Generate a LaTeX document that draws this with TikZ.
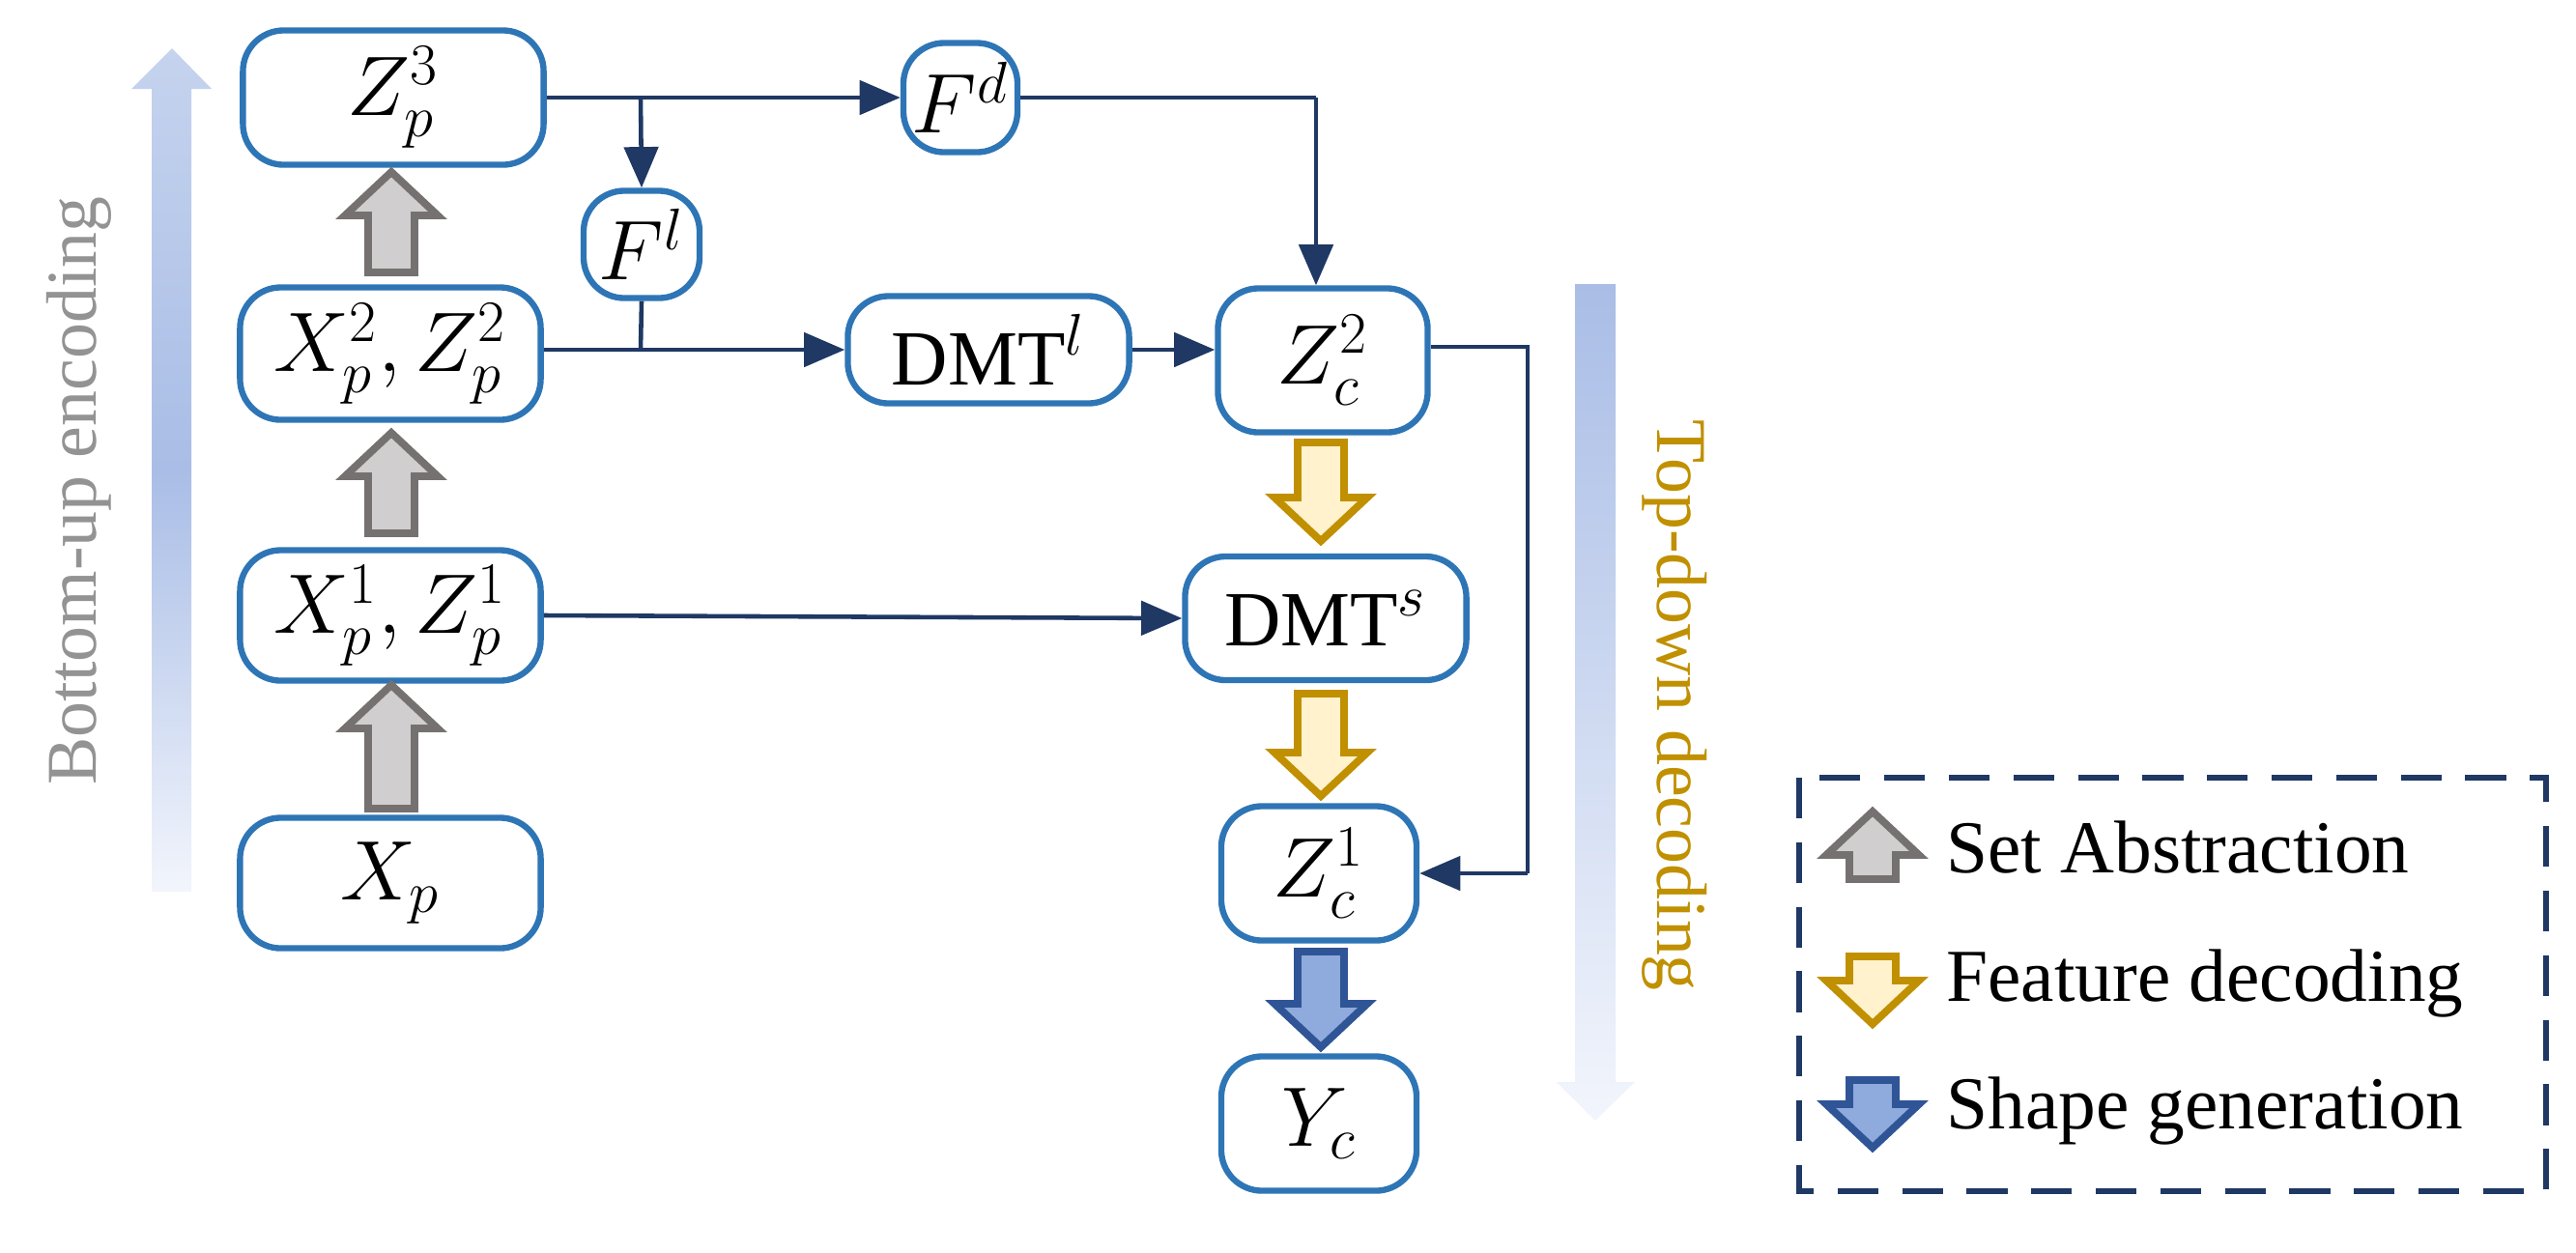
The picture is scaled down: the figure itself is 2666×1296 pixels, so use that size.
\documentclass[tikz,border=0pt]{standalone}
\usepackage{fontspec}
\setmainfont{Liberation Serif}
\usetikzlibrary{arrows.meta}
\definecolor{bx}{HTML}{2E75B6}
\definecolor{cn}{HTML}{1F3864}
\definecolor{gold}{HTML}{C09000}
\definecolor{gfill}{HTML}{D0CECE}
\definecolor{gdraw}{HTML}{767171}
\definecolor{yfill}{HTML}{FFF2CC}
\definecolor{bfill}{HTML}{8FAADC}
\definecolor{bdraw}{HTML}{2F5597}
\definecolor{gmid}{HTML}{A9BDE6}
\definecolor{gtop}{HTML}{C5D3EE}
\definecolor{glow}{HTML}{F2F5FC}
\newcommand{\myup}[5]{% cx, top, bottom, fill, draw
  \filldraw[fill=#4,draw=#5,line width=2.2pt,line join=miter]
   ({#1-24},{#3}) -- ({#1-24},{#2+45}) -- ({#1-48},{#2+45}) -- (#1,#2) -- ({#1+48},{#2+45}) -- ({#1+24},{#2+45}) -- ({#1+24},{#3}) -- cycle;}
\newcommand{\mydown}[5]{% cx, top, bottom, fill, draw
  \filldraw[fill=#4,draw=#5,line width=2.2pt,line join=miter]
   ({#1-24},{#2}) -- ({#1-24},{#3-45}) -- ({#1-48},{#3-45}) -- (#1,#3) -- ({#1+48},{#3-45}) -- ({#1+24},{#3-45}) -- ({#1+24},{#2}) -- cycle;}
\begin{document}
\begin{tikzpicture}[x=0.01cm,y=-0.01cm,
  box/.style={draw=bx,line width=1.8pt,rounded corners=12pt,fill=white,inner sep=0pt,font=\fontsize{23}{27}\selectfont},
  con/.style={draw=cn,line width=1.3pt,-{Triangle[length=12pt,width=10pt]}},
  ln/.style={draw=cn,line width=1.3pt}]
\useasboundingbox (0,0) rectangle (2666,1296);
% gradient arrows
\shade[top color=gtop, bottom color=glow, middle color=gmid]
  (157,923) -- (157,92) -- (136,92) -- (178,50) -- (219,92) -- (198,92) -- (198,923) -- cycle;
\shade[top color=gmid, bottom color=glow]
  (1630,294) -- (1672,294) -- (1672,1120) -- (1692,1120) -- (1651,1160) -- (1611,1120) -- (1630,1120) -- cycle;
\node[rotate=90,text=gray!85,font=\fontsize{21}{24}\selectfont] (bu) at (82,508) {Bottom-up encoding};
\node[rotate=-90,text=gold,font=\fontsize{21}{24}\selectfont] (td) at (1733,730) {Top-down decoding};
% boxes
\node[box,minimum width=3.11cm,minimum height=1.39cm] (z3) at (407,101) {$Z_p^3$};
\node[box,minimum width=3.11cm,minimum height=1.37cm] (x2) at (404,366) {$X_p^2,Z_p^2$};
\node[box,minimum width=3.11cm,minimum height=1.35cm] (x1) at (404,637) {$X_p^1,Z_p^1$};
\node[box,minimum width=3.11cm,minimum height=1.35cm] (xp) at (404,914) {$X_p$};
\node[box,minimum width=1.18cm,minimum height=1.13cm] (fd) at (994,101) {$F^d$};
\node[box,minimum width=1.20cm,minimum height=1.11cm] (fl) at (664,253) {$F^l$};
\node[box,minimum width=2.91cm,minimum height=1.11cm] (dl) at (1023,362) {DMT$^l$};
\node[box,minimum width=2.17cm,minimum height=1.49cm] (z2) at (1369,373) {$Z_c^2$};
\node[box,minimum width=2.91cm,minimum height=1.28cm] (ds) at (1372,640) {DMT$^s$};
\node[box,minimum width=2.02cm,minimum height=1.39cm] (z1) at (1365,904) {$Z_c^1$};
\node[box,minimum width=2.02cm,minimum height=1.39cm] (yc) at (1365,1163) {$Y_c$};
% block arrows
\myup{405}{178}{282}{gfill}{gdraw}
\myup{405}{448}{552}{gfill}{gdraw}
\myup{405}{709}{837}{gfill}{gdraw}
\mydown{1367}{458}{560}{yfill}{gold}
\mydown{1367}{718}{824}{yfill}{gold}
\mydown{1367}{985}{1084}{bfill}{bdraw}
% connectors
\coordinate (b1) at (663,101);
\coordinate (b2) at (663,362);
\coordinate (c1) at (1362,101);
\coordinate (c2) at (1581,359);
\coordinate (c3) at (1581,904);
\draw[con] (z3.east) -- (fd.west);
\draw[con] (b1) -- (fl.north);
\draw[ln] (fd.east) -- (c1);
\draw[con] (c1) -- (z2.north -| c1);
\draw[ln] (fl.south) -- (b2);
\draw[con] (x2.east |- b2) -- (dl.west);
\draw[con] (dl.east) -- (z2.west |- dl.east);
\draw[con] (x1.east) -- (ds.west);
\draw[ln] (z2.east |- c2) -- (c2) -- (c3);
\draw[con] (c3) -- (z1.east);
% legend
\draw[cn,line width=1.6pt,dash pattern=on 12pt off 7pt] (1862,805) rectangle (2635,1233);
\myup{1938}{840}{910}{gfill}{gdraw}
\mydown{1938}{990}{1060}{yfill}{gold}
\mydown{1938}{1118}{1188}{bfill}{bdraw}
\node[anchor=west,font=\fontsize{22}{26}\selectfont] (l1) at (2002,877) {Set Abstraction};
\node[anchor=west,font=\fontsize{22}{26}\selectfont] (l2) at (2002,1018) {Feature decoding};
\node[anchor=west,font=\fontsize{22}{26}\selectfont] (l3) at (2002,1150) {Shape generation};
\end{tikzpicture}
\end{document}
